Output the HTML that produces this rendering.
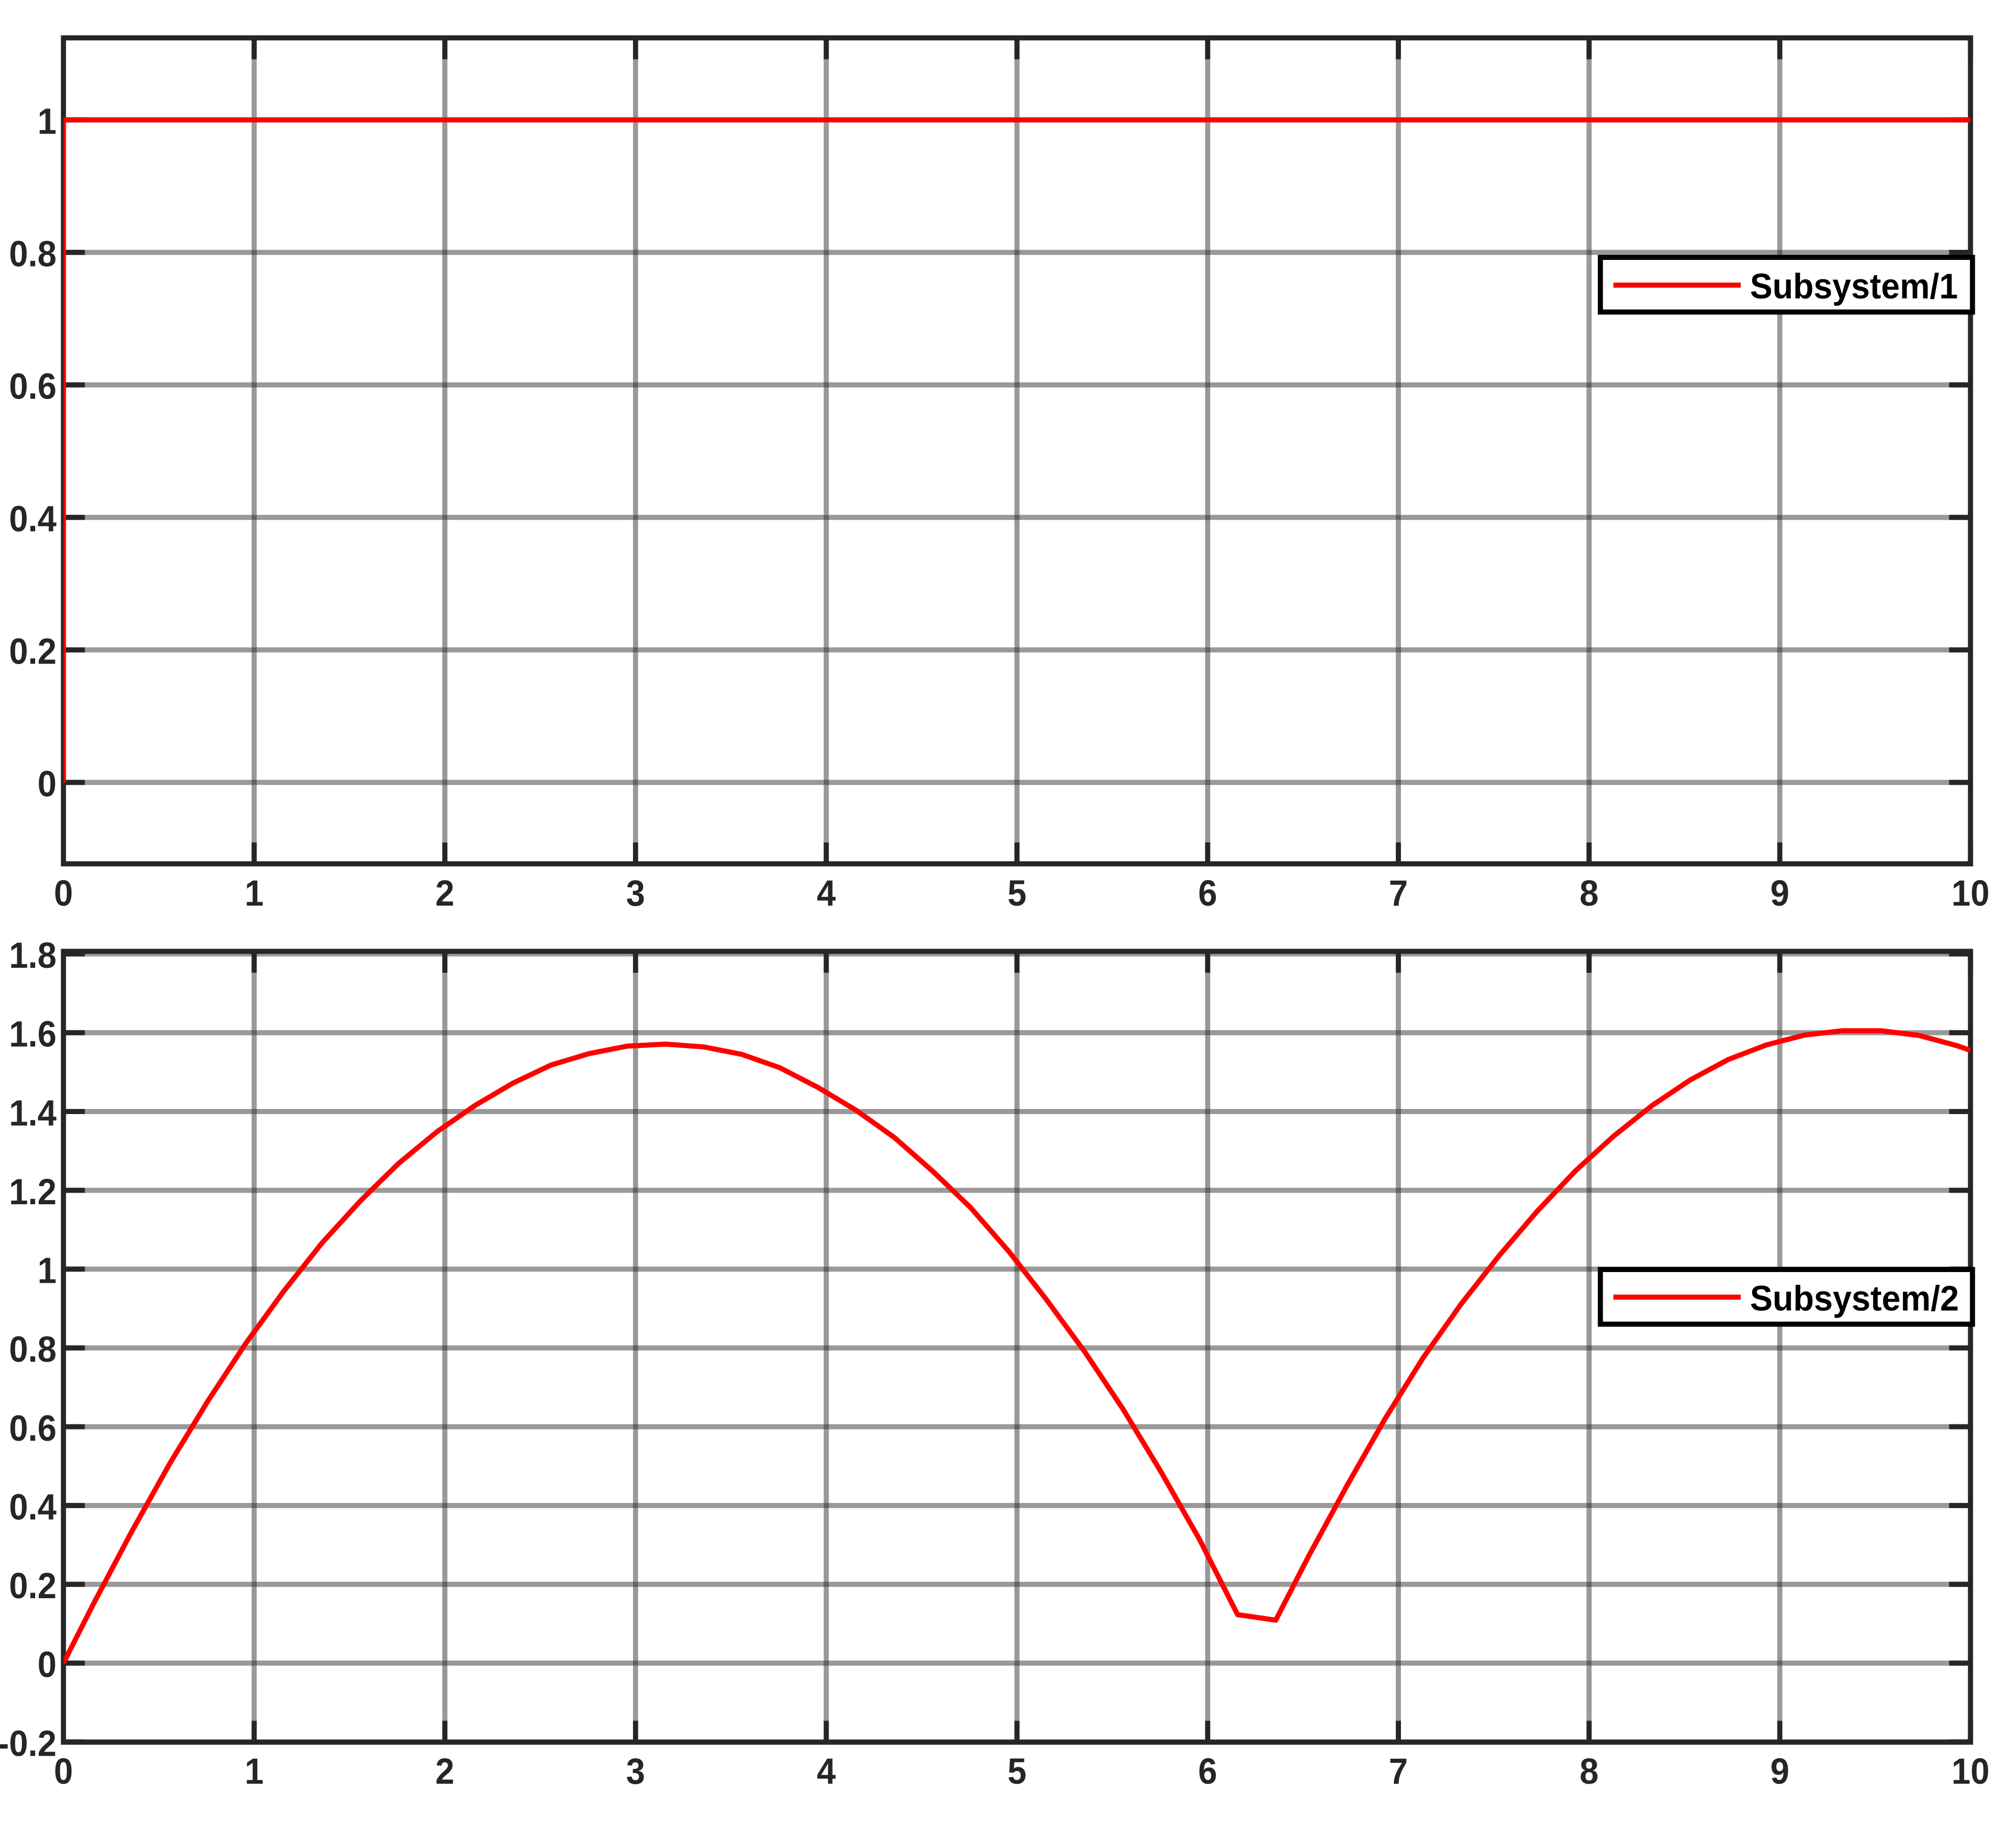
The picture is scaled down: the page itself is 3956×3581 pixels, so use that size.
<!DOCTYPE html>
<html lang="en">
<head>
<meta charset="utf-8">
<title>Subsystem signals</title>
<style>
  html, body { margin: 0; padding: 0; background: #fff; }
  svg { display: block; }
  text { font-family: "Liberation Sans", Arial, sans-serif; font-weight: bold; }
</style>
</head>
<body>
<svg id="figure" xmlns="http://www.w3.org/2000/svg" width="3956" height="3581" viewBox="0 0 3956 3581">
  <rect x="0" y="0" width="3956" height="3581" fill="#ffffff"/>
  <defs>
    <clipPath id="clip-top"><rect x="124.5" y="74.3" width="3742.2" height="1620.7"/></clipPath>
    <clipPath id="clip-bottom"><rect x="124.5" y="1866.7" width="3742.2" height="1551.8"/></clipPath>
  </defs>
  <g id="axes-top"></g>
  <g id="axes-bottom"></g>

  <g>
    <rect x="3140.4" y="505" width="730.2" height="107.3" fill="#ffffff" stroke="#000000" stroke-width="10"/>
    <line x1="3165.9" y1="559.5" x2="3415.9" y2="559.5" stroke="#ff0000" stroke-width="10"/>
    <text x="3434" y="585.7" font-size="70" fill="#000000" textLength="408" lengthAdjust="spacingAndGlyphs">Subsystem/1</text>
  </g>
  <g>
    <rect x="3140.4" y="2491" width="730.2" height="107.3" fill="#ffffff" stroke="#000000" stroke-width="10"/>
    <line x1="3165.9" y1="2545.3" x2="3415.9" y2="2545.3" stroke="#ff0000" stroke-width="10"/>
    <text x="3434" y="2571.7" font-size="70" fill="#000000" textLength="410" lengthAdjust="spacingAndGlyphs">Subsystem/2</text>
  </g>
</svg>
<script>
const xTickValues = [0, 1, 2, 3, 4, 5, 6, 7, 8, 9, 10];
const xTickLabels = ["0", "1", "2", "3", "4", "5", "6", "7", "8", "9", "10"];

const topYTickValues = [0, 0.2, 0.4, 0.6, 0.8, 1];
const topYTickLabels = ["0", "0.2", "0.4", "0.6", "0.8", "1"];
const bottomYTickValues = [-0.2, 0, 0.2, 0.4, 0.6, 0.8, 1, 1.2, 1.4, 1.6, 1.8];
const bottomYTickLabels = ["-0.2", "0", "0.2", "0.4", "0.6", "0.8", "1", "1.2", "1.4", "1.6", "1.8"];

const xDomain = [0, 10];
const topYDomain = [-0.12285, 1.12377];
const bottomYDomain = [-0.2007, 1.8065];

const subsystem1Times = [0, 0, 10];
const subsystem1Values = [0, 1, 1];

const subsystem2Times = [0, 0.157, 0.357, 0.557, 0.757, 0.957, 1.157, 1.357, 1.557, 1.757, 1.957, 2.157, 2.357, 2.557, 2.757, 2.957, 3.157, 3.357, 3.557, 3.757, 3.957, 4.157, 4.357, 4.557, 4.757, 4.957, 5.157, 5.357, 5.557, 5.757, 5.957, 6.157, 6.357, 6.53, 6.73, 6.93, 7.13, 7.33, 7.53, 7.73, 7.93, 8.13, 8.33, 8.53, 8.73, 8.93, 9.13, 9.33, 9.53, 9.73, 9.93, 10];
const subsystem2Values = [0, 0.150, 0.333, 0.506, 0.665, 0.812, 0.945, 1.067, 1.173, 1.268, 1.348, 1.415, 1.472, 1.518, 1.547, 1.566, 1.571, 1.564, 1.545, 1.511, 1.461, 1.403, 1.334, 1.249, 1.156, 1.045, 0.921, 0.789, 0.644, 0.484, 0.314, 0.123, 0.109, 0.272, 0.450, 0.620, 0.775, 0.912, 1.035, 1.148, 1.250, 1.338, 1.415, 1.480, 1.532, 1.569, 1.594, 1.605, 1.605, 1.593, 1.567, 1.555];

const SVG_NS = "http://www.w3.org/2000/svg";
const INK = "#262626";
const PLOT_LEFT = 124.5;
const PLOT_RIGHT = 3866.7;
const TICK_LENGTH = 42;
const LABEL_FONT_SIZE = 71;
const LABEL_X_SQUEEZE = 0.945;

function make(parent, tag, attrs) {
  const el = document.createElementNS(SVG_NS, tag);
  for (const key in attrs) el.setAttribute(key, attrs[key]);
  parent.appendChild(el);
  return el;
}

function xScale(v) {
  return PLOT_LEFT + (v - xDomain[0]) / (xDomain[1] - xDomain[0]) * (PLOT_RIGHT - PLOT_LEFT);
}

function yScaleFactory(domain, top, bottom) {
  return function (v) {
    return bottom - (v - domain[0]) / (domain[1] - domain[0]) * (bottom - top);
  };
}

function labelTransform(x, y) {
  return "translate(" + x + " " + y + ") scale(" + LABEL_X_SQUEEZE + " 1)";
}

function drawAxes(group, cfg) {
  const y = yScaleFactory(cfg.yDomain, cfg.top, cfg.bottom);

  // grid lines
  xTickValues.forEach(function (v) {
    if (v === xDomain[0] || v === xDomain[1]) return;
    const line = make(group, "line", { x1: xScale(v), x2: xScale(v), y1: cfg.top, y2: cfg.bottom, stroke: INK, "stroke-width": 10, "stroke-opacity": 0.47 });
    
    
  });
  cfg.yTicks.forEach(function (v) {
    const line = make(group, "line", { x1: PLOT_LEFT, x2: PLOT_RIGHT, y1: y(v), y2: y(v), stroke: INK, "stroke-width": 10, "stroke-opacity": 0.47 });
    
    
  });

  // plot box
  const box = make(group, "rect", { x: PLOT_LEFT, y: cfg.top, width: PLOT_RIGHT - PLOT_LEFT, height: cfg.bottom - cfg.top, fill: "none", stroke: INK, "stroke-width": 10 });
  
  

  // x ticks and labels
  xTickValues.forEach(function (v, i) {
    const tickBottom = make(group, "line", { x1: xScale(v), x2: xScale(v), y1: cfg.bottom, y2: cfg.bottom - TICK_LENGTH, stroke: INK, "stroke-width": 10 });
    
    
    const tickTop = make(group, "line", { x1: xScale(v), x2: xScale(v), y1: cfg.top, y2: cfg.top + TICK_LENGTH, stroke: INK, "stroke-width": 10 });
    
    
    const label = make(group, "text", { transform: labelTransform(xScale(v), cfg.xLabelBaseline), "font-size": LABEL_FONT_SIZE, fill: INK, "text-anchor": "middle" });
    label.textContent = xTickLabels[i];
    
    
  });

  // y ticks and labels
  cfg.yTicks.forEach(function (v, i) {
    const tickLeft = make(group, "line", { x1: PLOT_LEFT, x2: PLOT_LEFT + TICK_LENGTH, y1: y(v), y2: y(v), stroke: INK, "stroke-width": 10 });
    
    
    const tickRight = make(group, "line", { x1: PLOT_RIGHT, x2: PLOT_RIGHT - TICK_LENGTH, y1: y(v), y2: y(v), stroke: INK, "stroke-width": 10 });
    
    
    const label = make(group, "text", { transform: labelTransform(111, y(v) + 27.3), "font-size": LABEL_FONT_SIZE, fill: INK, "text-anchor": "end" });
    label.textContent = cfg.yLabels[i];
    
    
  });

  // series
  const points = cfg.times.map(function (t, i) {
    return xScale(t).toFixed(2) + "," + y(cfg.values[i]).toFixed(2);
  }).join(" ");
  const series = make(group, "polyline", { points: points, fill: "none", stroke: "#ff0000", "stroke-width": 10, "stroke-linejoin": "round", "stroke-linecap": "butt", "clip-path": "url(#" + cfg.clip + ")" });
  
  
}

drawAxes(document.getElementById("axes-top"), {
  top: 74.3, bottom: 1695, yDomain: topYDomain,
  yTicks: topYTickValues, yLabels: topYTickLabels,
  times: subsystem1Times, values: subsystem1Values,
  xLabelBaseline: 1777, clip: "clip-top", seriesName: "subsystem-1-line"
});
drawAxes(document.getElementById("axes-bottom"), {
  top: 1866.7, bottom: 3418.5, yDomain: bottomYDomain,
  yTicks: bottomYTickValues, yLabels: bottomYTickLabels,
  times: subsystem2Times, values: subsystem2Values,
  xLabelBaseline: 3500, clip: "clip-bottom", seriesName: "subsystem-2-line"
});
</script>
</body>
</html>
